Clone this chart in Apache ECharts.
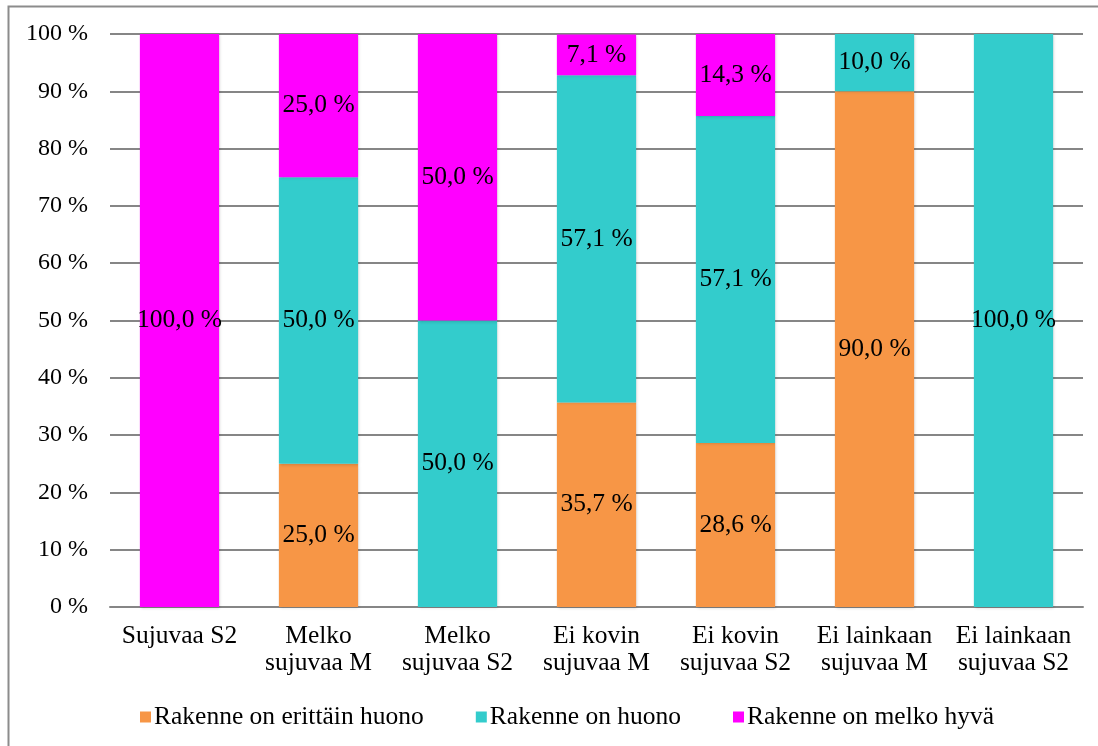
<!DOCTYPE html>
<html>
<head>
<meta charset="utf-8">
<script src="https://cdn.jsdelivr.net/npm/echarts@6/dist/echarts.min.js"></script>
<style>
  html, body { margin: 0; padding: 0; background: #fff; }
  #chart { width: 1098px; height: 746px; }
</style>
</head>
<body>
<div id="chart"></div>
<script>
// Categories (two-line axis labels)
const categories = [
  'Sujuvaa S2',
  'Melko\nsujuvaa M',
  'Melko\nsujuvaa S2',
  'Ei kovin\nsujuvaa M',
  'Ei kovin\nsujuvaa S2',
  'Ei lainkaan\nsujuvaa M',
  'Ei lainkaan\nsujuvaa S2'
];

// Shares (%) per answer group
const erittainHuono = [0, 25.0, 0, 35.7, 28.6, 90.0, 0];
const huono         = [0, 50.0, 50.0, 57.1, 57.1, 10.0, 100.0];
const melkoHyva     = [100.0, 25.0, 50.0, 7.1, 14.3, 0, 0];

const seriesNames = ['Rakenne on erittäin huono', 'Rakenne on huono', 'Rakenne on melko hyvä'];
const seriesColors = ['#F79646', '#33CCCC', '#FF00FF'];
const seriesData = [erittainHuono, huono, melkoHyva];

const FONT = '"Liberation Serif", "Times New Roman", serif';
const FS_AXIS = 24;
const FS = 25.5;

const fmt = v => v.toFixed(1).replace('.', ',') + ' %';

const chart = echarts.init(document.getElementById('chart'), null, { renderer: 'canvas' });

chart.setOption({
  animation: false,
  backgroundColor: '#ffffff',
  textStyle: { fontFamily: FONT, color: '#000' },
  graphic: [{
    type: 'rect',
    shape: { x: 8.5, y: 6.5, width: 1100, height: 760 },
    style: { fill: 'none', stroke: '#8c8c8c', lineWidth: 2 },
    silent: true
  }],
  grid: { left: 110, right: 15, top: 34, bottom: 139, containLabel: false },
  legend: {
    bottom: 11,
    left: 135,
    itemWidth: 11,
    itemHeight: 11,
    itemGap: 52,
    icon: 'rect',
    textStyle: { fontFamily: FONT, fontSize: FS, color: '#000', padding: [0, 0, 0, -2] },
    data: seriesNames
  },
  xAxis: {
    type: 'category',
    data: categories,
    axisLine: { show: true, lineStyle: { color: '#868686', width: 2 } },
    axisTick: { show: false },
    axisLabel: {
      fontFamily: FONT, fontSize: FS, color: '#000',
      lineHeight: 27, margin: 16, interval: 0
    }
  },
  yAxis: {
    type: 'value',
    min: 0, max: 100, interval: 10,
    axisLine: { show: false },
    axisTick: { show: false },
    splitLine: { lineStyle: { color: '#868686', width: 2 } },
    axisLabel: {
      fontFamily: FONT, fontSize: FS_AXIS, color: '#000', margin: 22,
      formatter: v => v + ' %'
    }
  },
  series: seriesData.map((d, i) => ({
    name: seriesNames[i],
    type: 'bar',
    stack: 'total',
    barCategoryGap: '43%',
    data: d,
    itemStyle: {
      color: seriesColors[i],
      shadowColor: 'rgba(0,0,0,0.18)',
      shadowBlur: 3,
      shadowOffsetX: 1,
      shadowOffsetY: 1
    },
    label: {
      show: true,
      position: 'inside',
      fontFamily: FONT,
      fontSize: FS,
      color: '#000',
      formatter: p => (p.value > 0 ? fmt(p.value) : '')
    }
  }))
});
</script>
</body>
</html>
